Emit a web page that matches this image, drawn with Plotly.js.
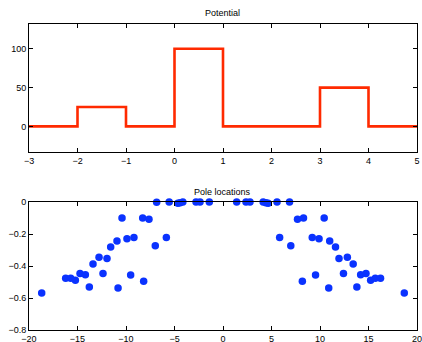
<!DOCTYPE html>
<html><head><meta charset="utf-8">
<script src="https://cdn.plot.ly/plotly-3.0.1.min.js"></script>
<style>html,body{margin:0;padding:0;background:#fff}#c{width:422px;height:342px}</style>
</head><body><div id="c"></div>
<script>
// Potential (step function: value holds from each x until the next x)
const potX = [-3, -2, -1, 0, 1, 3, 4, 5];
const potY = [0, 25, 0, 100, 0, 50, 0, 0];

// Pole locations
const poleRe = [
  -18.69, -16.22, -15.70, -15.22, -14.74, -14.19, -13.78, -13.40, -12.78, -12.37,
  -11.96, -11.58, -10.93, -10.82, -10.41, -9.90, -9.52, -9.18, -8.28, -8.18,
  -7.63, -6.98, -6.84, -5.84, -5.55, -4.65, -4.42, -4.14, -2.78, -2.37, -1.41,
  1.41, 2.37, 2.78, 4.14, 4.42, 4.65, 5.57, 5.84, 6.86, 6.99, 7.68, 8.30, 8.18,
  9.20, 9.54, 9.90, 10.43, 10.90, 11.0, 11.60, 11.96, 12.42, 12.82, 13.42,
  13.80, 14.19, 14.74, 15.22, 15.70, 16.24, 18.69
];
const poleIm = [
  -0.568, -0.476, -0.476, -0.489, -0.447, -0.455, -0.532, -0.387, -0.345, -0.447,
  -0.353, -0.281, -0.243, -0.538, -0.100, -0.229, -0.457, -0.222, -0.100, -0.495,
  -0.108, -0.274, -0.002, -0.222, 0, -0.008, -0.004, 0, 0, 0, 0,
  0, 0, 0, 0, -0.004, -0.008, 0, -0.222, 0, -0.274, -0.108, -0.100, -0.495,
  -0.222, -0.457, -0.229, -0.100, -0.538, -0.243, -0.281, -0.353, -0.447, -0.345, -0.387,
  -0.532, -0.455, -0.447, -0.489, -0.476, -0.476, -0.568
];

const font = {family: 'Liberation Sans, Arial, sans-serif', size: 9, color: '#000'};
const axBase = {
  showline: true, linecolor: '#000', linewidth: 1, mirror: 'ticks',
  ticks: 'inside', ticklen: 4, tickcolor: '#000', tickwidth: 1,
  showgrid: false, zeroline: false, tickfont: font, fixedrange: true,
  ticklabeloverflow: 'allow'
};

const traces = [
  {x: potX, y: potY, type: 'scatter', mode: 'lines', line: {shape: 'hv', color: '#ff2a00', width: 2.6},
   xaxis: 'x', yaxis: 'y', hoverinfo: 'none'},
  {x: poleRe, y: poleIm, type: 'scatter', mode: 'markers', cliponaxis: false,
   marker: {color: '#0a32ff', size: 7.5}, xaxis: 'x2', yaxis: 'y2', hoverinfo: 'none'}
];

const layout = {
  width: 422, height: 342, margin: {l: 0, r: 0, t: 0, b: 0},
  paper_bgcolor: '#fff', plot_bgcolor: '#fff', showlegend: false, font: font,
  xaxis: Object.assign({}, axBase, {domain: [29/422, 417/422], range: [-3, 5], dtick: 1, anchor: 'y'}),
  yaxis: Object.assign({}, axBase, {domain: [1 - 152/342, 1 - 24/342], range: [-33, 132], tickvals: [0, 50, 100], anchor: 'x'}),
  xaxis2: Object.assign({}, axBase, {domain: [29/422, 417/422], range: [-20, 20], dtick: 5, anchor: 'y2'}),
  yaxis2: Object.assign({}, axBase, {domain: [1 - 330/342, 1 - 202/342], range: [-0.8, 0], dtick: 0.2, anchor: 'x2'}),
  annotations: [
    {text: 'Potential', xref: 'paper', yref: 'paper', x: 223/422, y: 1 - 13/342, xanchor: 'center', yanchor: 'middle', showarrow: false, font: font},
    {text: 'Pole locations', xref: 'paper', yref: 'paper', x: 223/422, y: 1 - 192/342, xanchor: 'center', yanchor: 'middle', showarrow: false, font: font}
  ]
};

Plotly.newPlot('c', traces, layout, {displayModeBar: false, staticPlot: true});
</script></body></html>
